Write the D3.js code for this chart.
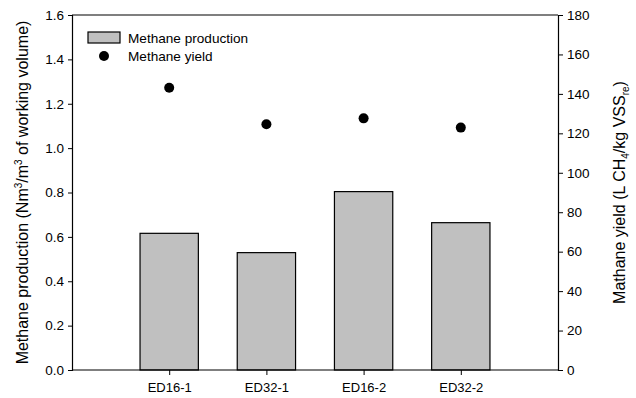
<!DOCTYPE html>
<html><head><meta charset="utf-8">
<script src="https://cdn.jsdelivr.net/npm/d3@7"></script>
<style>body{margin:0;background:#fff}svg{display:block;font-family:"Liberation Sans",Arial,sans-serif}</style>
</head><body><svg id="c" width="636" height="398"></svg>
<script>
const categories = ["ED16-1","ED32-1","ED16-2","ED32-2"];
const production = [0.616, 0.529, 0.804, 0.664];
const yieldVals = [143.1, 124.6, 127.6, 122.9];
const leftTicks = [0.0,0.2,0.4,0.6,0.8,1.0,1.2,1.4,1.6];
const rightTicks = [0,20,40,60,80,100,120,140,160,180];

const svg = d3.select("#c");
const L=72, R=558, T=15, B=370;
const x = d3.scaleLinear().domain([0,5]).range([L,R]);
const yL = d3.scaleLinear().domain([0,1.6]).range([B,T]);
const yR = d3.scaleLinear().domain([0,180]).range([B,T]);
const bw = (x(1)-x(0))*0.6;

// bars
svg.selectAll("rect.bar").data(production).join("rect").attr("class","bar")
  .attr("x",(d,i)=>x(i+1)-bw/2).attr("width",bw)
  .attr("y",d=>yL(d)).attr("height",d=>B-yL(d))
  .attr("fill","#c0c0c0").attr("stroke","#000").attr("stroke-width",1.2);

// points
svg.selectAll("circle.pt").data(yieldVals).join("circle").attr("class","pt")
  .attr("cx",(d,i)=>x(i+1)).attr("cy",d=>yR(d)).attr("r",5).attr("fill","#000");

// frame top
svg.append("line").attr("x1",L).attr("x2",R).attr("y1",T).attr("y2",T).attr("stroke","#000").attr("stroke-width",1.2);

const fs = "13.5px";
const ax1 = svg.append("g").attr("transform",`translate(${L},0)`)
  .call(d3.axisLeft(yL).tickValues(leftTicks).tickFormat(d3.format(".1f")).tickSizeOuter(0).tickSize(4).tickPadding(4));
const ax2 = svg.append("g").attr("transform",`translate(${R},0)`)
  .call(d3.axisRight(yR).tickValues(rightTicks).tickSizeOuter(0).tickSize(5).tickPadding(4));
const ax3 = svg.append("g").attr("transform",`translate(0,${B})`)
  .call(d3.axisBottom(x).tickValues([1,2,3,4]).tickFormat(d=>categories[d-1]).tickSizeOuter(0).tickSize(5).tickPadding(8));
[ax1,ax2,ax3].forEach(a=>{
  a.selectAll("path.domain").attr("stroke","#000").attr("stroke-width",1.2);
  a.selectAll(".tick line").attr("stroke","#000");
  a.selectAll("text").attr("font-size",fs).attr("fill","#000").attr("font-family","Liberation Sans, Arial, sans-serif");
});
ax3.selectAll("text").attr("font-size","13px");
ax3.select("path.domain").attr("d",`M${L},0H${R}`);

// axis titles
const lt = svg.append("text").attr("transform",`translate(27.5,${(T+B)/2}) rotate(-90)`)
  .attr("text-anchor","middle").attr("font-size","16px").attr("fill","#000");
lt.append("tspan").text("Methane production (Nm");
lt.append("tspan").attr("dy",-6).attr("font-size","10px").text("3");
lt.append("tspan").attr("dy",6).text("/m");
lt.append("tspan").attr("dy",-6).attr("font-size","10px").text("3");
lt.append("tspan").attr("dy",6).text(" of working volume)");

const rt = svg.append("text").attr("transform",`translate(625,${(T+B)/2}) rotate(-90)`)
  .attr("text-anchor","middle").attr("font-size","16px").attr("fill","#000");
rt.append("tspan").text("Mathane yield (L CH");
rt.append("tspan").attr("dy",4).attr("font-size","10px").text("4");
rt.append("tspan").attr("dy",-4).text("/kg VSS");
rt.append("tspan").attr("dy",4).attr("font-size","10px").text("re");
rt.append("tspan").attr("dy",-4).text(")");

// legend
svg.append("rect").attr("x",88).attr("y",32).attr("width",32).attr("height",11)
  .attr("fill","#c0c0c0").attr("stroke","#000").attr("stroke-width",1.2);
svg.append("text").attr("x",128).attr("y",42.5).attr("font-size","13.6px").attr("fill","#000").text("Methane production");
svg.append("circle").attr("cx",104).attr("cy",56).attr("r",5).attr("fill","#000");
svg.append("text").attr("x",128).attr("y",61).attr("font-size","13.6px").attr("fill","#000").text("Methane yield");
</script></body></html>
